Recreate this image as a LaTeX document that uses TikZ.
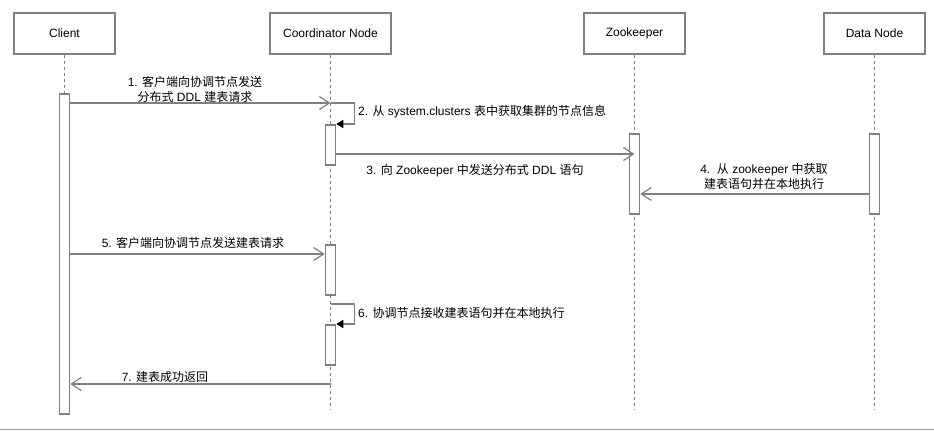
\documentclass[tikz,border=0pt]{standalone}
\usepackage{fontspec}
\setmainfont{Liberation Sans}
\newfontfamily\cjk{Noto Sans CJK SC}
\newcommand{\zh}[1]{{\cjk #1}}
\usepackage{tikz}
\usetikzlibrary{arrows.meta,positioning,calc}
\definecolor{linegray}{RGB}{128,128,128}

\begin{document}
\begin{tikzpicture}[x=1pt, y=-1pt,
        actor/.style={draw=linegray, line width=1.5pt, minimum width=101pt, minimum height=41pt, inner sep=0pt, font=\fontsize{12}{14}\selectfont},
        lifeline/.style={draw=linegray, line width=1.5pt, dash pattern=on 3pt off 3pt},
        activation/.style={draw=linegray, fill=white, line width=1.5pt, minimum width=10pt, inner sep=0pt, anchor=north},
        msg/.style={draw=linegray, line width=1.5pt, -{Straight Barb[length=10pt, width=13pt, line width=1.2pt]}},
        selfmsg/.style={draw=linegray, line width=1.5pt, -{Triangle[length=7pt, width=8pt, color=black]}},
        lbl/.style={font=\fontsize{12}{15}\selectfont, inner sep=1pt, align=center}
    ]
        \useasboundingbox (0,0) rectangle (934,431);
        \fill[white] (0,0) rectangle (934,431);

        % participants
        \node[actor] (client) at (64.5,33.5) {Client};
        \node[actor, minimum width=121pt] (coord) at (330.5,33.5) {Coordinator Node};
        \node[actor] (zk) at (634.5,33.5) {Zookeeper};
        \node[actor] (data) at (874.5,33.5) {Data Node};

        \foreach \p in {client, coord, zk, data} {
            \coordinate (\p end) at (\p.south |- 0,410);
            \draw[lifeline] (\p.south) -- (\p end);
        }

        % activation bars
        \node[activation, minimum height=320pt] (act client) at (client.south |- 0,93) {};
        \node[activation, minimum height=40pt] (act c1) at (coord.south |- 0,124) {};
        \node[activation, minimum height=50pt] (act c2) at (coord.south |- 0,244) {};
        \node[activation, minimum height=40pt] (act c3) at (coord.south |- 0,324) {};
        \node[activation, minimum height=80pt] (act zk) at (zk.south |- 0,133) {};
        \node[activation, minimum height=80pt] (act data) at (data.south |- 0,133) {};

        % messages
        \coordinate (m1) at (coord.south |- 0,103);
        \draw[msg] (act client.east |- m1) -- (m1);
        \node[lbl] (l1) at (195,89.5) {1. \zh{客户端向协调节点发送}\\\zh{分布式} DDL \zh{建表请求}};

        \draw[selfmsg] (m1) -- ++(24,0) |- (act c1.north east);
        \node[lbl, anchor=west] (l2) at (357,112) {2. \zh{从} system.clusters \zh{表中获取集群的节点信息}};

        \coordinate (m3) at (zk.south |- 0,154);
        \draw[msg] (act c1.east |- m3) -- (m3);
        \node[lbl] (l3) at (475,171) {3. \zh{向} Zookeeper \zh{中发送分布式} DDL \zh{语句}};

        \draw[msg] (act data.west |- 0,194) -- (act zk.east |- 0,194);
        \node[lbl] (l4) at (764,176.5) {4.\ \ \zh{从} zookeeper \zh{中获取}\\\zh{建表语句并在本地执行}};

        \draw[msg] (act client.east |- 0,254) -- (act c2.west |- 0,254);
        \node[lbl] (l5) at (193,243) {5. \zh{客户端向协调节点发送建表请求}};

        \coordinate (m6) at (coord.south |- 0,304);
        \draw[selfmsg] (m6) -- ++(24,0) |- (act c3.north east);
        \node[lbl, anchor=west] (l6) at (357,313) {6. \zh{协调节点接收建表语句并在本地执行}};

        \coordinate (m7) at (coord.south |- 0,384);
        \draw[msg] (m7) -- (act client.east |- m7);
        \node[lbl] (l7) at (165,377) {7. \zh{建表成功返回}};

        \draw[linegray!80, line width=1pt] (0,429.5) -- (934,429.5);
    \end{tikzpicture}
\end{document}
